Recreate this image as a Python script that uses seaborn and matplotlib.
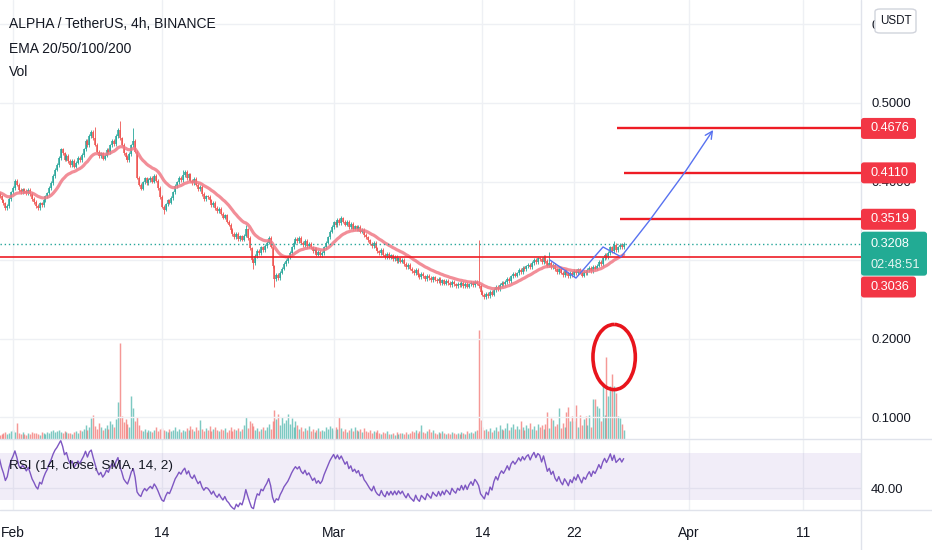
import matplotlib
matplotlib.use("Agg")
import matplotlib.pyplot as plt
import matplotlib.transforms as mtransforms
from matplotlib.patches import FancyBboxPatch, Arc
from matplotlib.lines import Line2D
from matplotlib import font_manager
import numpy as np
import pandas as pd
import seaborn as sns

# ALPHA/USDT 4h closes, one row per day (00,04,08,12,16,20h), 29 Jan -> 26 Mar 2021
daily_closes = [
    [0.386, 0.389, 0.384, 0.388, 0.391, 0.387],  # Jan 29
    [0.390, 0.386, 0.383, 0.387, 0.384, 0.381],  # Jan 30
    [0.376, 0.372, 0.366, 0.369, 0.378, 0.386],  # Jan 31
    [0.392, 0.401, 0.396, 0.389, 0.386, 0.390],  # Feb 1
    [0.388, 0.385, 0.389, 0.384, 0.378, 0.374],
    [0.369, 0.366, 0.372, 0.370, 0.376, 0.381],
    [0.385, 0.392, 0.398, 0.407, 0.415, 0.421],
    [0.430, 0.441, 0.436, 0.428, 0.433, 0.426],  # Feb 5
    [0.421, 0.426, 0.419, 0.424, 0.430, 0.427],
    [0.434, 0.441, 0.452, 0.446, 0.458, 0.463],
    [0.455, 0.447, 0.438, 0.432, 0.436, 0.429],
    [0.433, 0.440, 0.437, 0.446, 0.452, 0.448],
    [0.458, 0.466, 0.455, 0.447, 0.436, 0.431],  # Feb 10
    [0.427, 0.435, 0.446, 0.452, 0.438, 0.405],
    [0.396, 0.391, 0.399, 0.404, 0.398, 0.402],
    [0.405, 0.400, 0.407, 0.401, 0.392, 0.380],
    [0.368, 0.364, 0.371, 0.376, 0.373, 0.379],
    [0.386, 0.394, 0.399, 0.405, 0.402, 0.408],  # Feb 15
    [0.412, 0.404, 0.409, 0.401, 0.398, 0.403],
    [0.396, 0.390, 0.393, 0.384, 0.378, 0.381],
    [0.380, 0.376, 0.370, 0.373, 0.366, 0.362],
    [0.365, 0.359, 0.354, 0.357, 0.349, 0.345],
    [0.338, 0.333, 0.329, 0.333, 0.327, 0.330],  # Feb 20
    [0.326, 0.331, 0.339, 0.328, 0.315, 0.300],
    [0.296, 0.305, 0.312, 0.309, 0.316, 0.313],
    [0.318, 0.322, 0.328, 0.317, 0.292, 0.276],
    [0.281, 0.277, 0.284, 0.289, 0.295, 0.299],
    [0.303, 0.309, 0.316, 0.322, 0.327, 0.324],  # Feb 25
    [0.328, 0.322, 0.319, 0.324, 0.318, 0.321],
    [0.316, 0.311, 0.314, 0.307, 0.310, 0.306],
    [0.309, 0.316, 0.322, 0.329, 0.336, 0.342],
    [0.348, 0.344, 0.351, 0.347, 0.353, 0.349],  # Mar 1
    [0.345, 0.349, 0.342, 0.346, 0.340, 0.343],
    [0.339, 0.342, 0.336, 0.338, 0.332, 0.329],
    [0.325, 0.321, 0.318, 0.322, 0.315, 0.311],
    [0.309, 0.313, 0.307, 0.304, 0.308, 0.303],  # Mar 5
    [0.306, 0.301, 0.304, 0.299, 0.302, 0.298],
    [0.300, 0.295, 0.291, 0.294, 0.289, 0.286],
    [0.283, 0.287, 0.281, 0.278, 0.282, 0.279],
    [0.276, 0.280, 0.277, 0.274, 0.278, 0.275],
    [0.273, 0.276, 0.271, 0.274, 0.270, 0.273],  # Mar 10
    [0.271, 0.268, 0.272, 0.269, 0.267, 0.270],
    [0.268, 0.271, 0.267, 0.270, 0.266, 0.269],
    [0.271, 0.268, 0.272, 0.270, 0.267, 0.259],
    [0.256, 0.253, 0.257, 0.254, 0.259, 0.256],
    [0.262, 0.266, 0.263, 0.268, 0.271, 0.269],  # Mar 15
    [0.272, 0.276, 0.273, 0.279, 0.282, 0.280],
    [0.283, 0.287, 0.285, 0.290, 0.288, 0.292],
    [0.294, 0.291, 0.296, 0.300, 0.297, 0.302],
    [0.301, 0.297, 0.304, 0.299, 0.293, 0.296],
    [0.291, 0.294, 0.288, 0.285, 0.289, 0.284],  # Mar 20
    [0.281, 0.286, 0.283, 0.279, 0.284, 0.281],
    [0.286, 0.283, 0.288, 0.284, 0.280, 0.285],
    [0.283, 0.287, 0.290, 0.286, 0.291, 0.289],
    [0.293, 0.298, 0.295, 0.302, 0.307, 0.304],
    [0.309, 0.316, 0.311, 0.319, 0.313, 0.316],  # Mar 25
    [0.319, 0.316, 0.3208],                      # Mar 26 (live bar)
]

# volume per 4h bar (k ALPHA), same layout
daily_volume = [
    [5, 4, 6, 5, 4, 5], [4, 5, 6, 4, 5, 4], [5, 6, 7, 5, 6, 8],
    [9, 7, 16, 6, 5, 7], [5, 4, 6, 5, 7, 6], [6, 5, 4, 7, 6, 5],
    [7, 6, 8, 9, 7, 8], [9, 7, 6, 8, 7, 6], [6, 5, 7, 8, 6, 9],
    [8, 10, 14, 9, 12, 21], [24, 13, 10, 16, 12, 9], [11, 14, 10, 18, 15, 12],
    [20, 37, 96, 23, 17, 20], [15, 12, 43, 31, 18, 22], [14, 9, 8, 10, 7, 9],
    [8, 7, 9, 12, 8, 10], [11, 9, 8, 7, 10, 8], [9, 12, 8, 10, 7, 9],
    [8, 11, 9, 13, 10, 8], [12, 9, 19, 10, 8, 11], [9, 13, 8, 10, 12, 9],
    [8, 10, 9, 11, 7, 9], [12, 8, 10, 9, 11, 8], [10, 14, 22, 11, 18, 16],
    [13, 9, 11, 8, 10, 12], [9, 12, 15, 10, 18, 29], [20, 25, 14, 22, 16, 19],
    [25, 15, 21, 12, 18, 14], [10, 12, 8, 11, 9, 13], [8, 10, 7, 9, 11, 8],
    [9, 8, 12, 10, 13, 11],
    [9, 12, 10, 22, 11, 8], [10, 7, 9, 11, 8, 12], [9, 8, 10, 7, 11, 8],
    [7, 9, 6, 8, 7, 9], [6, 5, 7, 6, 8, 5], [5, 6, 4, 7, 5, 6],
    [6, 5, 7, 5, 6, 8], [7, 9, 6, 8, 14, 7], [6, 8, 10, 7, 9, 6],
    [5, 7, 6, 8, 6, 5], [6, 5, 7, 6, 5, 6], [5, 7, 6, 5, 8, 6],
    [7, 6, 8, 9, 109, 19], [12, 9, 10, 8, 11, 7], [9, 12, 8, 14, 10, 9],
    [11, 16, 9, 12, 15, 10], [13, 10, 18, 12, 9, 14], [11, 16, 10, 13, 9, 15],
    [12, 14, 10, 15, 27, 11], [21, 19, 13, 15, 31, 11], [16, 12, 27, 32, 18, 23],
    [18, 34, 12, 24, 14, 20], [23, 14, 24, 12, 40, 40], [33, 31, 18, 56, 24, 82],
    [43, 53, 65, 53, 46, 23], [21, 15, 9],
]

# notable wicks
wick_highs = {
    "2021-02-08 04:00": 0.470, "2021-02-10 08:00": 0.477, "2021-02-11 12:00": 0.468,
    "2021-02-15 20:00": 0.415, "2021-02-21 08:00": 0.345, "2021-02-23 12:00": 0.331,
    "2021-03-01 16:00": 0.356, "2021-03-13 16:00": 0.326, "2021-03-19 20:00": 0.310,
    "2021-03-25 12:00": 0.324,
}
wick_lows = {
    "2021-02-14 04:00": 0.359, "2021-02-22 00:00": 0.289,
    "2021-02-23 20:00": 0.266, "2021-03-14 04:00": 0.250,
}

# drawn levels / annotations
target_levels = [0.4676, 0.4110, 0.3519]
target_starts = ["2021-03-25 18:00", "2021-03-26 08:40", "2021-03-26 00:00"]
support_level = 0.3036
last_price = 0.3208
countdown = "02:48:51"
tag_levels = [0.4676, 0.4110, 0.3519, 0.2656]   # where the axis tags sit (0.3036 pushed below live tag)
tag_texts = ["0.4676", "0.4110", "0.3519", "0.3036"]
arrow_times = ["2021-03-19 21:30", "2021-03-22 04:00", "2021-03-24 12:45", "2021-03-26 02:30",
               "2021-03-28 15:00", "2021-03-31 16:30", "2021-04-03 03:30"]
arrow_prices = [0.300, 0.277, 0.3166, 0.304, 0.351, 0.412, 0.4656]
circle_time, circle_price = "2021-03-25 12:00", 0.1764
circle_days, circle_height = 3.7, 0.083

price_ticks = [0.1, 0.2, 0.3, 0.4, 0.5, 0.6]
price_tick_text = ["0.1000", "0.2000", "", "0.4000", "0.5000", "0.6000"]  # 0.3000 sits under the live tag
date_ticks = ["2021-02-01", "2021-02-14", "2021-03-01", "2021-03-14", "2021-03-22", "2021-04-01", "2021-04-11"]
date_labels = ["Feb", "14", "Mar", "14", "22", "Apr", "11"]

# ---------------------------------------------------------------- data frame
close = np.array([c for row in daily_closes for c in row])
volume = np.array([v for row in daily_volume for v in row], dtype=float)
times = pd.date_range("2021-01-29 00:00", periods=len(close), freq="4h")
df = pd.DataFrame({"time": times, "close": close, "volume": volume})
df["open"] = df["close"].shift(1).fillna(df["close"].iloc[0])
wick = 0.0022
df["high"] = df[["open", "close"]].max(axis=1) + wick
df["low"] = df[["open", "close"]].min(axis=1) - wick
for k, v in wick_highs.items():
    df.loc[df["time"] == pd.Timestamp(k), "high"] = v
for k, v in wick_lows.items():
    df.loc[df["time"] == pd.Timestamp(k), "low"] = v
df["up"] = df["close"] >= df["open"]
df["ema20"] = df["close"].ewm(span=20, adjust=False).mean()
delta = df["close"].diff()
gain = delta.clip(lower=0).ewm(alpha=1 / 14, adjust=False).mean()
loss = (-delta.clip(upper=0)).ewm(alpha=1 / 14, adjust=False).mean()
df["rsi"] = 100 - 100 / (1 + gain / loss)

# ---------------------------------------------------------------- style
sns.set_theme(style="white")
names = {f.name for f in font_manager.fontManager.ttflist}
base_font = "Liberation Sans" if "Liberation Sans" in names else "DejaVu Sans"
plt.rcParams["font.family"] = [base_font, "DejaVu Sans"]

ink = "#131722"
grid_c = "#eef0f4"
sep_c = "#e0e3eb"
up_c, dn_c = "#26a69a", "#ef5350"
red_line = "#ee1c25"
tag_red = "#f23645"
tag_green = "#22ab94"

W, H = 932, 550
fig = plt.figure(figsize=(W / 100, H / 100), dpi=100, facecolor="white")
pane_w = 861 / W
main_rect = [0, 1 - 439 / H, pane_w, 439 / H]
rsi_rect = [0, 1 - 510 / H, pane_w, 71 / H]

ax_vol = fig.add_axes(main_rect, zorder=1)
ax = fig.add_axes(main_rect, zorder=2, sharex=ax_vol)
ax.patch.set_alpha(0)
ax_rsi = fig.add_axes(rsi_rect, sharex=ax_vol)

x_left = pd.Timestamp("2021-02-01") - pd.Timedelta(days=1.135)
x_right = pd.Timestamp("2021-02-01") + pd.Timedelta(days=74.06)
ax_vol.set_xlim(x_left, x_right)
ax.set_ylim(0.0720, 0.6312)
ax_rsi.set_ylim(21.7, 81.7)

# volume
vcols = np.where(df["up"], up_c, dn_c)
ax_vol.vlines(df["time"], 0, df["volume"], colors=vcols, lw=1.05, alpha=0.6)
ax_vol.set_ylim(0, df["volume"].max() * 439 / 109)
ax_vol.axis("off")

# grid
tick_dates = pd.to_datetime(date_ticks)
ax.set_xticks(tick_dates)
ax.set_yticks(price_ticks)
ax.grid(True, color=grid_c, lw=1)
ax.set_axisbelow(True)

# candles
ccols = np.where(df["up"], up_c, dn_c)
ax.vlines(df["time"], df["low"], df["high"], colors=ccols, lw=0.6, zorder=3)
body_lo = df[["open", "close"]].min(axis=1)
body_hi = np.maximum(df[["open", "close"]].max(axis=1), body_lo + 0.0008)
ax.vlines(df["time"], body_lo, body_hi, colors=ccols, lw=1.1, zorder=3)

# EMA
sns.lineplot(data=df, x="time", y="ema20", ax=ax, color="#f07a86", lw=2.3, alpha=0.85, zorder=4)

# horizontal levels
ax.axhline(support_level, color=red_line, lw=1.2, zorder=5)
ax.axhline(last_price, color=up_c, lw=1.0, ls=(0, (1, 2)), zorder=5)
for lvl, start in zip(target_levels, target_starts):
    ax.hlines(lvl, pd.Timestamp(start), x_right, color=red_line, lw=1.7, zorder=5)

# hand drawn arrow
at = pd.to_datetime(arrow_times)
ax.plot(at[:-1], arrow_prices[:-1], color="#5872f0", lw=1.0, zorder=6)
ax.annotate("", xy=(at[-1], arrow_prices[-1]), xytext=(at[-2], arrow_prices[-2]),
            arrowprops=dict(arrowstyle="->", color="#5872f0", lw=1.0,
                            mutation_scale=13, shrinkA=0, shrinkB=0), zorder=6)

# red circle around the volume spike
cx = matplotlib.dates.date2num(pd.Timestamp(circle_time))
ax.add_patch(Arc((cx, circle_price), circle_days, circle_height, theta1=85, theta2=428,
                 color="#e8141c", lw=2.6, zorder=7))

# right price scale
ax.yaxis.tick_right()
ax.set_yticklabels(price_tick_text)
ax.tick_params(axis="y", length=0, pad=7.2, labelsize=9.4, labelcolor=ink)
ax.tick_params(axis="x", length=0, labelbottom=False)
ax.set_xlabel("")
ax.set_ylabel("")
for s in ax.spines.values():
    s.set_visible(False)

# price tags on the scale
px = (0.6312 - 0.0720) / 439
blend = mtransforms.blended_transform_factory(ax.transAxes, ax.transData)
for lvl, txt in zip(tag_levels, tag_texts):
    ax.add_patch(FancyBboxPatch((1.0, lvl - 10.5 * px), 55 / 861, 21 * px,
                                boxstyle="round,pad=0,rounding_size=0.0035",
                                fc=tag_red, ec="none", transform=blend, clip_on=False, zorder=10))
    ax.text(1 + 10 / 861, lvl, txt, transform=blend, color="white", fontsize=9.2,
            va="center", ha="left", clip_on=False, zorder=11)
ax.add_patch(FancyBboxPatch((1.0, last_price - 32 * px), 66 / 861, 44 * px,
                            boxstyle="round,pad=0,rounding_size=0.0035",
                            fc=tag_green, ec="none", transform=blend, clip_on=False, zorder=10))
ax.text(1 + 10 / 861, last_price, f"{last_price:.4f}", transform=blend, color="white",
        fontsize=9.2, va="center", ha="left", clip_on=False, zorder=11)
ax.text(1 + 10 / 861, last_price - 21 * px, countdown, transform=blend, color="#e6f5f2",
        fontsize=9.2, va="center", ha="left", clip_on=False, zorder=11)

# currency badge
ax.add_patch(FancyBboxPatch((1 + 14 / 861, 1 - 33 / 439), 41 / 861, 24 / 439,
                            boxstyle="round,pad=0,rounding_size=0.006",
                            fc="white", ec="#d1d4dc", lw=1, transform=ax.transAxes,
                            clip_on=False, zorder=10))
ax.text(1 + 34.5 / 861, 1 - 21 / 439, "USDT", transform=ax.transAxes, color=ink,
        fontsize=8.4, ha="center", va="center", clip_on=False, zorder=11)

# RSI pane
ax_rsi.axhspan(30, 70, color="#7e57c2", alpha=0.1, lw=0)
sns.lineplot(data=df, x="time", y="rsi", ax=ax_rsi, color="#7e57c2", lw=1.0)
ax_rsi.set_xticks(tick_dates)
ax_rsi.set_xticklabels(date_labels)
ax_rsi.set_yticks([40])
ax_rsi.yaxis.tick_right()
ax_rsi.set_yticklabels(["40.00"])
ax_rsi.grid(True, color=grid_c, lw=1)
ax_rsi.set_axisbelow(True)
ax_rsi.tick_params(axis="y", length=0, pad=7.2, labelsize=9.4, labelcolor=ink)
ax_rsi.tick_params(axis="x", length=0, pad=11.2, labelsize=10, labelcolor=ink)
ax_rsi.set_xlabel("")
ax_rsi.set_ylabel("")
for s in ax_rsi.spines.values():
    s.set_visible(False)
ax_rsi.text(9 / 861, (510 - 466) / 71, "RSI (14, close, SMA, 14, 2)", transform=ax_rsi.transAxes,
            color=ink, fontsize=9.7, va="center", ha="left")

# legend texts
fig.text(9 / W, 1 - 24 / H, "ALPHA / TetherUS, 4h, BINANCE", color=ink, fontsize=10, va="center")
fig.text(9 / W, 1 - 49 / H, "EMA 20/50/100/200", color=ink, fontsize=10, va="center")
fig.text(9 / W, 1 - 72 / H, "Vol", color=ink, fontsize=10, va="center")

# pane separators
y_sep1 = ax.get_position().y0
y_sep2 = ax_rsi.get_position().y0
fig.add_artist(Line2D([0, 1], [y_sep1, y_sep1], transform=fig.transFigure, color=sep_c, lw=1))
fig.add_artist(Line2D([0, 1], [y_sep2, y_sep2], transform=fig.transFigure, color=sep_c, lw=1))
fig.add_artist(Line2D([pane_w, pane_w], [0, 1], transform=fig.transFigure, color=sep_c, lw=1))

fig.savefig("out.png", dpi=100, facecolor="white")
